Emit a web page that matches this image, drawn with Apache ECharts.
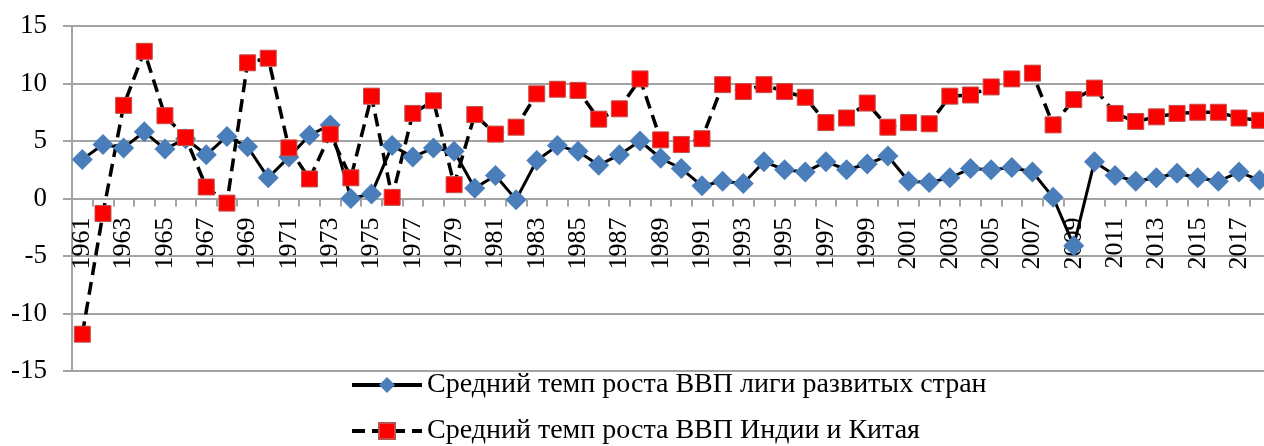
<!DOCTYPE html>
<html>
<head>
<meta charset="utf-8">
<script src="https://cdn.jsdelivr.net/npm/echarts@6/dist/echarts.min.js"></script>
<style>
  html, body { margin: 0; padding: 0; background: #fff; }
  #chart { width: 1264px; height: 446px; }
</style>
</head>
<body>
<div id="chart"></div>
<script>
const years = []
for (let y = 1961; y <= 2018; y++) years.push(String(y))

// Средний темп роста ВВП лиги развитых стран
const developed = [
  3.4, 4.7, 4.4, 5.8, 4.3, 5.2, 3.8, 5.4, 4.5, 1.8,
  3.6, 5.5, 6.4, 0.0, 0.4, 4.6, 3.6, 4.4, 4.1, 0.9,
  2.0, -0.1, 3.3, 4.6, 4.1, 2.9, 3.8, 5.0, 3.5, 2.6,
  1.1, 1.5, 1.3, 3.2, 2.5, 2.3, 3.2, 2.5, 3.0, 3.7,
  1.5, 1.4, 1.8, 2.6, 2.5, 2.7, 2.3, 0.1, -4.1, 3.2,
  2.0, 1.5, 1.8, 2.2, 1.8, 1.5, 2.3, 1.6
]

// Средний темп роста ВВП Индии и Китая
const indiaChina = [
  -11.8, -1.3, 8.1, 12.8, 7.2, 5.3, 1.0, -0.4, 11.8, 12.2,
  4.4, 1.7, 5.6, 1.8, 8.9, 0.1, 7.4, 8.5, 1.2, 7.3,
  5.6, 6.2, 9.1, 9.5, 9.4, 6.9, 7.8, 10.4, 5.1, 4.7,
  5.2, 9.9, 9.3, 9.9, 9.3, 8.8, 6.6, 7.0, 8.3, 6.2,
  6.6, 6.5, 8.9, 9.0, 9.7, 10.4, 10.9, 6.4, 8.6, 9.6,
  7.4, 6.7, 7.1, 7.4, 7.5, 7.5, 7.0, 6.8
]

const seriesNames = [
  'Средний темп роста ВВП лиги развитых стран',
  'Средний темп роста ВВП Индии и Китая'
]

const font = '"Liberation Serif", serif'
const gridColor = '#a3a3a3'
const legendText = { fontFamily: font, fontSize: 28, color: '#000' }

const chart = echarts.init(document.getElementById('chart'))
chart.setOption({
  animation: false,
  backgroundColor: '#fff',
  grid: {
    left: 72,
    right: -6,
    top: 26,
    bottom: 75,
    containLabel: false,
    outerBoundsMode: 'none'
  },
  // две строки легенды, как в оригинале
  legend: [
    {
      left: 350, top: 371, padding: 0,
      itemWidth: 70, itemHeight: 20,
      lineStyle: { width: 4 },
      textStyle: legendText,
      data: [seriesNames[0]]
    },
    {
      left: 350, top: 417, padding: 0,
      itemWidth: 70, itemHeight: 20,
      lineStyle: { width: 4 },
      textStyle: legendText,
      data: [seriesNames[1]]
    }
  ],
  xAxis: {
    type: 'category',
    data: years,
    boundaryGap: true,
    position: 'bottom',
    // ось X проходит через ноль
    offset: -172.5,
    axisLine: { onZero: false, lineStyle: { color: gridColor, width: 2 } },
    axisTick: { show: true, interval: 0, length: 8, lineStyle: { color: gridColor, width: 2 } },
    axisLabel: {
      interval: 1,
      rotate: 90,
      margin: 19,
      fontFamily: font,
      fontSize: 26,
      color: '#000'
    },
    splitLine: { show: false }
  },
  yAxis: {
    type: 'value',
    min: -15,
    max: 15,
    interval: 5,
    axisLine: { show: true, lineStyle: { color: gridColor, width: 2 } },
    axisTick: { show: true, length: 9, lineStyle: { color: gridColor, width: 2 } },
    axisLabel: { fontFamily: font, fontSize: 27, color: '#000', margin: 25 },
    splitLine: { show: true, lineStyle: { color: gridColor, width: 2 } }
  },
  series: [
    {
      name: seriesNames[0],
      type: 'line',
      data: developed,
      showAllSymbol: true,
      symbol: 'diamond',
      symbolSize: 21,
      lineStyle: { color: '#000', width: 3 },
      itemStyle: { color: '#4a7ebb', borderWidth: 0 }
    },
    {
      name: seriesNames[1],
      type: 'line',
      data: indiaChina,
      showAllSymbol: true,
      symbol: 'rect',
      symbolSize: 16,
      lineStyle: { color: '#000', width: 3.5, type: [13, 7] },
      itemStyle: { color: '#ff0000', borderColor: '#c0504d', borderWidth: 1 }
    }
  ]
})
</script>
</body>
</html>
